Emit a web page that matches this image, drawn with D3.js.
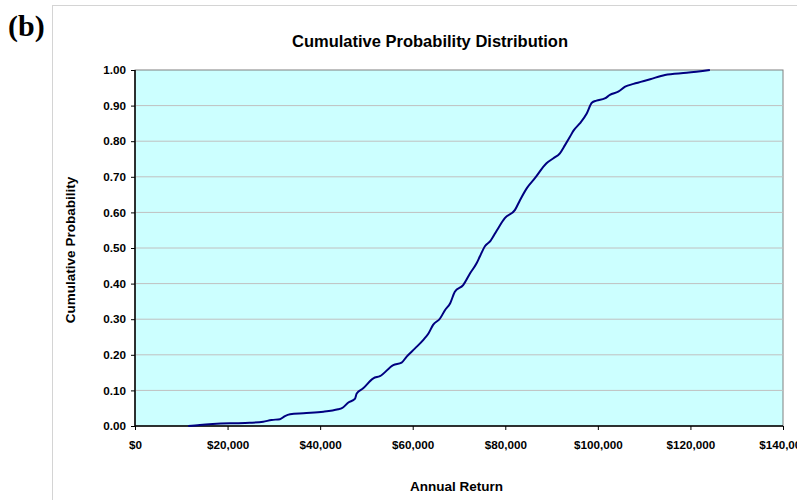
<!DOCTYPE html>
<html>
<head>
<meta charset="utf-8">
<script src="https://cdn.jsdelivr.net/npm/d3@7"></script>
<style>
  body { margin: 0; background: #fff; }
  text { font-family: "Liberation Sans", Arial, sans-serif; font-weight: bold; }
</style>
</head>
<body>
<svg width="797" height="500"></svg>
<script>
const returns = [11500, 14000, 20500, 24800, 27700, 29500, 31300, 32400, 33500, 36400, 40700, 43900, 44700, 46100, 47500, 47900, 49300, 51500, 52900, 55800, 57600, 58700, 60500, 62300, 63400, 64400, 65900, 67000, 68100, 69100, 70900, 72400, 73800, 74500, 75600, 76800, 78200, 79900, 82100, 83200, 84700, 86400, 88900, 90400, 91800, 92900, 94000, 94700, 96100, 97600, 98700, 99700, 101500, 102600, 104400, 105900, 107700, 111300, 114500, 119200, 124200];
const probs   = [0, 0.003, 0.0075, 0.009, 0.012, 0.017, 0.019, 0.028, 0.033, 0.036, 0.040, 0.047, 0.050, 0.066, 0.076, 0.091, 0.106, 0.134, 0.140, 0.171, 0.178, 0.195, 0.218, 0.242, 0.260, 0.284, 0.302, 0.326, 0.345, 0.377, 0.396, 0.429, 0.457, 0.476, 0.505, 0.52, 0.55, 0.584, 0.607, 0.635, 0.669, 0.696, 0.738, 0.752, 0.766, 0.789, 0.813, 0.829, 0.850, 0.878, 0.908, 0.914, 0.920, 0.930, 0.939, 0.953, 0.961, 0.974, 0.986, 0.992, 1.0];
const xTicks = [0, 20000, 40000, 60000, 80000, 100000, 120000, 140000];
const yTicks = [0, 0.1, 0.2, 0.3, 0.4, 0.5, 0.6, 0.7, 0.8, 0.9, 1.0];

const svg = d3.select('svg');
const plotLeft = 135, plotRight = 783, plotTop = 70, plotBottom = 426;

const x = d3.scaleLinear().domain([0, 140000]).range([plotLeft, plotRight]);
const y = d3.scaleLinear().domain([0, 1]).range([plotBottom, plotTop]);

// outer chart frame
svg.append('rect')
    .attr('x', 52.5).attr('y', 5.5)
    .attr('width', 760).attr('height', 510)
    .attr('fill', 'none')
    .attr('stroke', '#d4d4d4');

svg.append('text')
    .attr('x', 8).attr('y', 36)
    .style('font-family', '"Liberation Serif", "Times New Roman", serif')
    .style('font-size', '30px')
    .text('(b)');

// plot background
svg.append('rect')
    .attr('x', plotLeft).attr('y', plotTop)
    .attr('width', plotRight - plotLeft).attr('height', plotBottom - plotTop)
    .attr('fill', '#ccffff')
    .attr('stroke', '#808080');

// gridlines
svg.append('g')
    .selectAll('line')
    .data(yTicks.filter(d => d > 0 && d < 1))
    .enter()
    .append('line')
    .attr('x1', plotLeft).attr('x2', plotRight)
    .attr('y1', d => y(d)).attr('y2', d => y(d))
    .attr('stroke', '#c0c0c0');

const xAxis = svg.append('g')
    .attr('transform', `translate(0,${plotBottom})`)
    .call(d3.axisBottom(x).tickValues(xTicks).tickSize(4).tickPadding(11)
        .tickFormat(d => '$' + d3.format(',')(d)));

const yAxis = svg.append('g')
    .attr('transform', `translate(${plotLeft},0)`)
    .call(d3.axisLeft(y).tickValues(yTicks).tickSize(4).tickPadding(5)
        .tickFormat(d3.format('.2f')));

[xAxis, yAxis].forEach(a => {
    a.select('.domain').attr('stroke', '#000').attr('stroke-width', 1.5);
    a.selectAll('.tick line').attr('stroke', '#000');
    a.selectAll('text')
        .style('font-size', '11.7px')
        .style('font-family', '"Liberation Sans", Arial, sans-serif')
        .style('font-weight', 'bold')
        .attr('fill', '#000');
});
xAxis.select('.domain').attr('d', `M${plotLeft},0H${plotRight}`);
yAxis.select('.domain').attr('d', `M0,${plotBottom}V${plotTop}`);

const points = returns.map((r, i) => [r, probs[i]]);
const line = d3.line()
    .x(d => x(d[0]))
    .y(d => y(d[1]))
    .curve(d3.curveMonotoneX);

svg.append('path')
    .datum(points)
    .attr('d', line)
    .attr('fill', 'none')
    .attr('stroke', '#000080')
    .attr('stroke-width', 2);

svg.append('text')
    .attr('x', 430).attr('y', 46.5)
    .attr('text-anchor', 'middle')
    .style('font-size', '16.5px')
    .text('Cumulative Probability Distribution');

svg.append('text')
    .attr('transform', 'translate(75,250) rotate(-90)')
    .attr('text-anchor', 'middle')
    .style('font-size', '13.5px')
    .text('Cumulative Probability');

svg.append('text')
    .attr('x', 456.5).attr('y', 491)
    .attr('text-anchor', 'middle')
    .style('font-size', '13.5px')
    .text('Annual Return');
</script>
</body>
</html>
